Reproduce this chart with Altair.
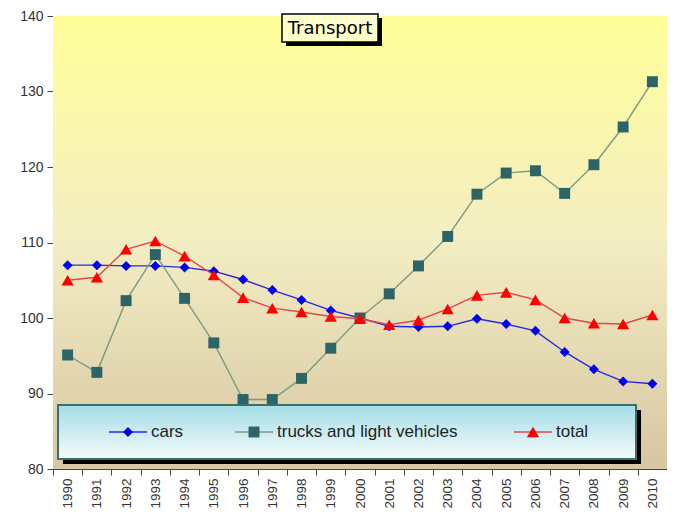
import altair as alt
import pandas as pd

years = [str(y) for y in range(1990, 2011)]
cars = [107.0, 107.0, 106.9, 106.9, 106.7, 106.2, 105.1, 103.7, 102.4, 101.0, 100.0,
        98.9, 98.8, 98.9, 99.9, 99.2, 98.3, 95.5, 93.2, 91.6, 91.3]
trucks = [95.1, 92.8, 102.3, 108.4, 102.6, 96.7, 89.2, 89.2, 92.0, 96.0, 100.0,
          103.2, 106.9, 110.8, 116.4, 119.2, 119.5, 116.5, 120.3, 125.3, 131.3]
total = [105.0, 105.4, 109.1, 110.2, 108.2, 105.7, 102.7, 101.3, 100.8, 100.2, 99.9,
         99.1, 99.7, 101.2, 103.0, 103.4, 102.4, 100.0, 99.3, 99.2, 100.4]
series_names = ["cars", "trucks and light vehicles", "total"]
y_ticks = [80, 90, 100, 110, 120, 130, 140]
title_text = "Transport"

W, H = 614, 453
FONT = "Liberation Sans"

line_colors = ["#2828D8", "#7C9A84", "#E04848"]
point_colors = ["#0000EE", "#2C6468", "#FF0000"]
shapes = ["diamond", "square", "triangle-up"]
sizes = [100, 120, 150]

df = pd.DataFrame({
    "year": years * 3,
    "value": cars + trucks + total,
    "series": [series_names[0]] * 21 + [series_names[1]] * 21 + [series_names[2]] * 21,
})
one = pd.DataFrame({"a": [0]})

xenc = alt.X("year:O", sort=years, title=None,
             scale=alt.Scale(type="band", paddingInner=0, paddingOuter=0),
             axis=alt.Axis(labelAngle=-90, tickBand="extent", labelFontSize=13.5,
                           labelColor="#333333", labelFont=FONT, domainColor="#444444",
                           tickColor="#444444", tickSize=6, labelPadding=3, grid=False))
yenc = alt.Y("value:Q", title=None,
             scale=alt.Scale(domain=[80, 140], nice=False, zero=False),
             axis=alt.Axis(values=y_ticks, labelFontSize=14, labelColor="#333333",
                           labelFont=FONT, domainColor="#444444", tickColor="#444444",
                           tickSize=6, labelPadding=4, grid=True, gridColor="#000000",
                           gridDash=[3, 2], gridOpacity=0.85, gridWidth=1))

bg = alt.Chart(one).mark_rect(
    fill=alt.Gradient(gradient="linear", x1=0, x2=0, y1=0, y2=1,
                      stops=[alt.GradientStop(offset=0, color="#FFFF99"),
                             alt.GradientStop(offset=0.5, color="#F3EDC3"),
                             alt.GradientStop(offset=1, color="#D6C6A2")])
).encode(x=alt.value(0), x2=alt.value(W), y=alt.value(0), y2=alt.value(H))

layers = [bg]
for i, name in enumerate(series_names):
    sub = df[df.series == name]
    base = alt.Chart(sub)
    layers.append(base.mark_line(color=line_colors[i], strokeWidth=1.4).encode(x=xenc, y=yenc))
    layers.append(base.mark_point(shape=shapes[i], filled=True, fill=point_colors[i],
                                  size=sizes[i], opacity=1, strokeWidth=0).encode(x=xenc, y=yenc))

# Legend box
lx0, lx1, ly0, ly1 = 5, 583, 389, 443
layers.append(alt.Chart(one).mark_rect(fill="#000000").encode(
    x=alt.value(lx0 + 5), x2=alt.value(lx1 + 5), y=alt.value(ly0 + 5), y2=alt.value(ly1 + 5)))
layers.append(alt.Chart(one).mark_rect(
    stroke="#3D6E6E", strokeWidth=2,
    fill=alt.Gradient(gradient="linear", x1=0, x2=0, y1=0, y2=1,
                      stops=[alt.GradientStop(offset=0, color="#A4DDE6"),
                             alt.GradientStop(offset=1, color="#F3FBFB")])
).encode(x=alt.value(lx0), x2=alt.value(lx1), y=alt.value(ly0), y2=alt.value(ly1)))

leg_sym_x = [75, 201, 480]
leg_y = 416
for i, name in enumerate(series_names):
    cx = leg_sym_x[i]
    layers.append(alt.Chart(one).mark_rule(color=line_colors[i], strokeWidth=1.4).encode(
        x=alt.value(cx - 19), x2=alt.value(cx + 19), y=alt.value(leg_y)))
    layers.append(alt.Chart(one).mark_point(shape=shapes[i], filled=True, fill=point_colors[i],
                                            size=sizes[i], opacity=1, strokeWidth=0).encode(
        x=alt.value(cx), y=alt.value(leg_y)))
    layers.append(alt.Chart(one).mark_text(text=name, align="left", baseline="middle",
                                           fontSize=17, font=FONT, color="#222222").encode(
        x=alt.value(cx + 23), y=alt.value(leg_y)))

# Title box
tx0, tx1, ty0, ty1 = 229, 325, -2, 26
layers.append(alt.Chart(one).mark_rect(fill="#000000").encode(
    x=alt.value(tx0 + 4), x2=alt.value(tx1 + 4), y=alt.value(ty0 + 4), y2=alt.value(ty1 + 4)))
layers.append(alt.Chart(one).mark_rect(fill="#FFFFCC", stroke="#000000", strokeWidth=1.5).encode(
    x=alt.value(tx0), x2=alt.value(tx1), y=alt.value(ty0), y2=alt.value(ty1)))
layers.append(alt.Chart(one).mark_text(text=title_text, align="center", baseline="middle",
                                       fontSize=18, font="DejaVu Sans", fontWeight=500,
                                       color="#000000").encode(
    x=alt.value((tx0 + tx1) / 2), y=alt.value((ty0 + ty1) / 2 + 1)))

chart = alt.layer(*layers).properties(
    width=W, height=H,
    autosize=alt.AutoSizeParams(type="none"),
    padding={"left": 45, "top": 8, "right": 0, "bottom": 46},
    background="#FFFFFF",
).configure_view(stroke=None)

chart.save("out.html", embed_options={"renderer": "svg", "actions": False})
